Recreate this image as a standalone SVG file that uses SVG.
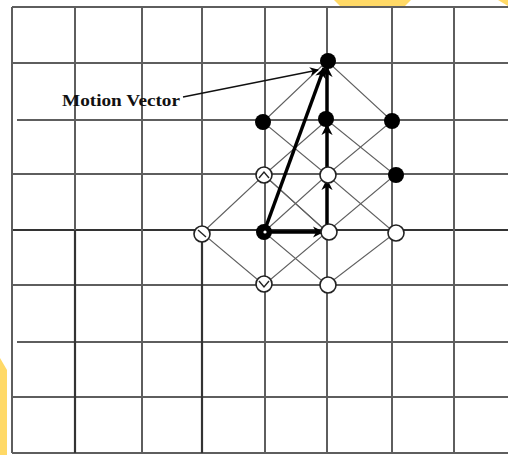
<svg xmlns="http://www.w3.org/2000/svg" width="508" height="455" viewBox="0 0 508 455">
<style>
.g{stroke:#5e5e5e;stroke-width:2;fill:none}
.gd{stroke:#333;stroke-width:2.2;fill:none}
.thin{stroke:#606060;stroke-width:1.1;fill:none}
.thick{stroke:#000;stroke-width:3.5;fill:none}
.fd{fill:#000}
.od{fill:#fff;stroke:#222;stroke-width:1.6}
.lbl{font-family:"Liberation Serif",serif;font-weight:bold;font-size:17px;fill:#111}
</style>
<defs>
<marker id="ah" viewBox="0 0 10 10" refX="9" refY="5" markerWidth="8" markerHeight="6" orient="auto" markerUnits="strokeWidth">
<path d="M0,0 L10,5 L0,10 L3,5 Z" fill="#000"/>
</marker>
<marker id="ahs" viewBox="0 0 10 10" refX="9" refY="5" markerWidth="3.2" markerHeight="3.2" orient="auto" markerUnits="strokeWidth">
<path d="M0,0 L10,5 L0,10 L3,5 Z" fill="#000"/>
</marker>
</defs>
<rect width="508" height="455" fill="#fff"/>
<g id="decor" fill="#FFD966">
<polygon points="334,0 411,0 405,6 340,6"/>
<polygon points="498,0 508,0 508,6"/>
<polygon points="0,358 7,370 7,455 0,455"/>
</g>
<g id="grid">
<line class="g" x1="12" y1="7" x2="508" y2="7"/>
<line class="g" x1="12" y1="63" x2="508" y2="63"/>
<line class="g" x1="17" y1="120" x2="508" y2="120"/>
<line class="g" x1="12" y1="174" x2="508" y2="174"/>
<line class="gd" x1="12" y1="230" x2="508" y2="230"/>
<line class="g" x1="12" y1="285" x2="508" y2="285"/>
<line class="g" x1="17" y1="342" x2="508" y2="342"/>
<line class="g" x1="12" y1="397" x2="508" y2="397"/>
<line class="g" x1="12" y1="453" x2="508" y2="453"/>
<line class="g" x1="12" y1="7" x2="12" y2="453"/>
<line class="g" x1="75" y1="7" x2="75" y2="230"/>
<line class="gd" x1="75" y1="230" x2="75" y2="453"/>
<line class="g" x1="142" y1="7" x2="142" y2="453"/>
<line class="g" x1="202" y1="7" x2="202" y2="230"/>
<line class="gd" x1="202" y1="230" x2="202" y2="453"/>
<line class="g" x1="265" y1="7" x2="265" y2="453"/>
<line class="g" x1="327" y1="7" x2="327" y2="453"/>
<line class="g" x1="392" y1="7" x2="392" y2="453"/>
<line class="g" x1="454" y1="7" x2="454" y2="453"/>
</g>
<g id="connectors">
<polygon class="thin" points="202,233 264,175 327,232 264,285"/>
<polygon class="thin" points="264,232 327,175 395,233 327,285"/>
<polygon class="thin" points="264,175 327,120 395,175 327,232"/>
<polygon class="thin" points="263,122 327,61 392,121 327,175"/>
<line class="thick" x1="264" y1="232" x2="323" y2="232" marker-end="url(#ahs)"/>
<line class="thick" x1="327" y1="232" x2="327" y2="180" marker-end="url(#ahs)"/>
<line class="thick" x1="327" y1="180" x2="327" y2="125" marker-end="url(#ahs)"/>
<line class="thick" x1="327" y1="125" x2="327" y2="67" marker-end="url(#ahs)"/>
<line class="thick" x1="264" y1="232" x2="324" y2="68" marker-end="url(#ahs)"/>
<line x1="183" y1="97" x2="318" y2="70" stroke="#111" stroke-width="1.5" marker-end="url(#ah)"/>
</g>
<g id="n-top"><circle class="fd" cx="328" cy="61" r="8"/></g>
<g id="n-b1"><circle class="fd" cx="263" cy="122" r="8"/></g>
<g id="n-c1"><circle class="fd" cx="326" cy="119" r="8"/></g>
<g id="n-d1"><circle class="fd" cx="392" cy="121" r="8"/></g>
<g id="n-d2"><circle class="fd" cx="396" cy="175" r="8"/></g>
<g id="n-b2"><circle class="od" cx="264" cy="175" r="8"/><path d="M259,178 L264,172 L269,178" stroke="#222" stroke-width="1.4" fill="none"/></g>
<g id="n-c2"><circle class="od" cx="328" cy="175" r="8"/></g>
<g id="n-a3"><circle class="od" cx="202" cy="234" r="8"/><path d="M198,230 L206,237" stroke="#222" stroke-width="1.4"/></g>
<g id="n-b3"><circle class="fd" cx="264" cy="232" r="8"/><circle cx="265" cy="232" r="1.6" fill="#fff"/></g>
<g id="n-c3"><circle class="od" cx="329" cy="232" r="8"/></g>
<g id="n-d3"><circle class="od" cx="396" cy="233" r="8"/></g>
<g id="n-b4"><circle class="od" cx="264" cy="284" r="8"/><path d="M259,281 L264,287 L269,281" stroke="#222" stroke-width="1.4" fill="none"/></g>
<g id="n-c4"><circle class="od" cx="328" cy="285" r="8"/></g>
<g id="label"><text class="lbl" x="62" y="106" textLength="118" lengthAdjust="spacingAndGlyphs">Motion Vector</text></g>
</svg>
